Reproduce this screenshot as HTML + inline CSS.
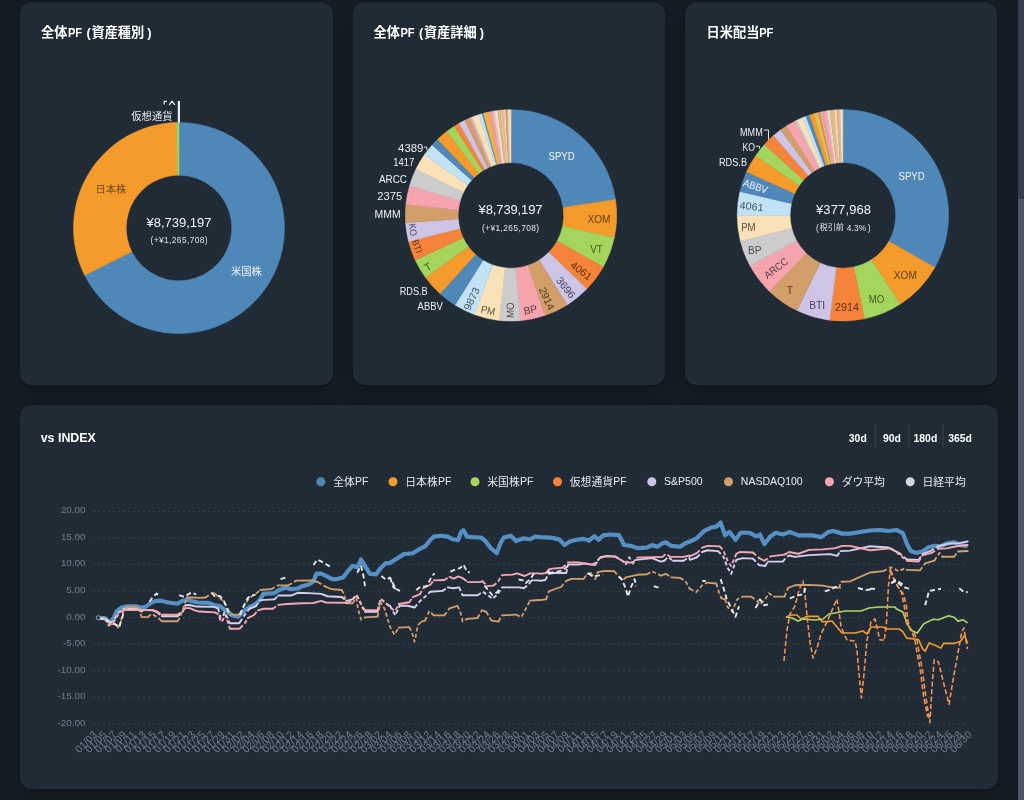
<!DOCTYPE html>
<html lang="ja"><head><meta charset="utf-8"><title>Portfolio Dashboard</title>
<style>
html,body{margin:0;padding:0;background:#161C24;}
body{width:1024px;height:800px;overflow:hidden;position:relative;font-family:"Liberation Sans", "Noto Sans CJK JP", sans-serif;color:#fff;}
.card{position:absolute;background:#212B36;border-radius:12px;box-shadow:0 0 2px 0 rgba(0,0,0,.24),0 10px 20px -4px rgba(0,0,0,.24);}
#c1{left:20px;top:1.5px;width:313px;height:383px;}
#c2{left:352.6px;top:1.5px;width:312.5px;height:383px;}
#c3{left:685.3px;top:1.5px;width:312.2px;height:383px;}
#c4{left:20px;top:405px;width:977.5px;height:384px;}
#sbt{position:absolute;left:1017.5px;top:0;width:6.5px;height:800px;background:#363c49;}
#sbh{position:absolute;left:1017.5px;top:199px;width:6.5px;height:601px;background:#4f5565;}
svg{position:absolute;left:0;top:0;filter:blur(0.35px);}
svg text{font-family:"Liberation Sans", "Noto Sans CJK JP", sans-serif;}
</style></head><body>
<div class="card" id="c1"></div><div class="card" id="c2"></div><div class="card" id="c3"></div><div class="card" id="c4"></div>
<div id="sbt"></div><div id="sbh"></div>
<svg width="1024" height="800" viewBox="0 0 1024 800">
<path d="M179 122.5A105.5 105.5 0 1 1 84.67 275.24L131.79 251.64A52.8 52.8 0 1 0 179 175.2Z" fill="#4f88b8" stroke="#4f88b8" stroke-width="0.5"/>
<path d="M84.67 275.24A105.5 105.5 0 0 1 176.42 122.53L177.71 175.22A52.8 52.8 0 0 0 131.79 251.64Z" fill="#f49b2c" stroke="#f49b2c" stroke-width="0.5"/>
<path d="M176.42 122.53A105.5 105.5 0 0 1 179 122.5L179 175.2A52.8 52.8 0 0 0 177.71 175.22Z" fill="#a6d55d" stroke="#a6d55d" stroke-width="0.5"/>
<rect x="177.8" y="101" width="2.2" height="21.6" fill="#e9ecef"/>
<path d="M164.2 104.6V101.4H167M169.2 104.8L172 101.2L174.9 104.8" stroke="#e9ecef" stroke-width="1.2" fill="none"/>
<text x="131.3" y="120.3" font-size="10.3" fill="#e6e9ec">仮想通貨</text>
<text x="95.5" y="192.5" font-size="10.3" fill="#6e4a1c">日本株</text>
<text x="231" y="275" font-size="10.3" fill="#f0f4f8">米国株</text>
<text x="146.6" y="226.9" font-size="13" fill="#f1f3f5" textLength="64.9" lengthAdjust="spacing">¥8,739,197</text>
<text x="150.5" y="243" font-size="8.4" fill="#e3e6ea" textLength="57.1" lengthAdjust="spacing">(+¥1,265,708)</text>
<path d="M511 109.7A105.7 105.7 0 0 1 615.48 199.41L563.19 207.41A52.8 52.8 0 0 0 511 162.6Z" fill="#4f88b8" stroke="#4f88b8" stroke-width="0.5"/>
<path d="M615.48 199.41A105.7 105.7 0 0 1 614.31 237.74L562.61 226.56A52.8 52.8 0 0 0 563.19 207.41Z" fill="#f49b2c" stroke="#f49b2c" stroke-width="0.5"/>
<path d="M614.31 237.74A105.7 105.7 0 0 1 603.27 266.97L557.09 241.16A52.8 52.8 0 0 0 562.61 226.56Z" fill="#a6d55d" stroke="#a6d55d" stroke-width="0.5"/>
<path d="M603.27 266.97A105.7 105.7 0 0 1 586.78 289.09L548.85 252.21A52.8 52.8 0 0 0 557.09 241.16Z" fill="#f5843a" stroke="#f5843a" stroke-width="0.5"/>
<path d="M586.78 289.09A105.7 105.7 0 0 1 567.17 304.94L539.06 260.13A52.8 52.8 0 0 0 548.85 252.21Z" fill="#cdc4e6" stroke="#cdc4e6" stroke-width="0.5"/>
<path d="M567.17 304.94A105.7 105.7 0 0 1 544.71 315.58L527.84 265.44A52.8 52.8 0 0 0 539.06 260.13Z" fill="#d29f6b" stroke="#d29f6b" stroke-width="0.5"/>
<path d="M544.71 315.58A105.7 105.7 0 0 1 520.21 320.7L515.6 268A52.8 52.8 0 0 0 527.84 265.44Z" fill="#f6a5ae" stroke="#f6a5ae" stroke-width="0.5"/>
<path d="M520.21 320.7A105.7 105.7 0 0 1 499.03 320.42L505.02 267.86A52.8 52.8 0 0 0 515.6 268Z" fill="#cccccc" stroke="#cccccc" stroke-width="0.5"/>
<path d="M499.03 320.42A105.7 105.7 0 0 1 474.33 314.53L492.68 264.92A52.8 52.8 0 0 0 505.02 267.86Z" fill="#fae2b8" stroke="#fae2b8" stroke-width="0.5"/>
<path d="M474.33 314.53A105.7 105.7 0 0 1 454.99 305.04L483.02 260.18A52.8 52.8 0 0 0 492.68 264.92Z" fill="#c2e3f6" stroke="#c2e3f6" stroke-width="0.5"/>
<path d="M454.99 305.04A105.7 105.7 0 0 1 440 293.7L475.53 254.51A52.8 52.8 0 0 0 483.02 260.18Z" fill="#4f88b8" stroke="#4f88b8" stroke-width="0.5"/>
<path d="M440 293.7A105.7 105.7 0 0 1 425.49 277.53L468.28 246.44A52.8 52.8 0 0 0 475.53 254.51Z" fill="#f49b2c" stroke="#f49b2c" stroke-width="0.5"/>
<path d="M425.49 277.53A105.7 105.7 0 0 1 415.2 260.07L463.15 237.71A52.8 52.8 0 0 0 468.28 246.44Z" fill="#a6d55d" stroke="#a6d55d" stroke-width="0.5"/>
<path d="M415.2 260.07A105.7 105.7 0 0 1 408.58 241.51L459.84 228.44A52.8 52.8 0 0 0 463.15 237.71Z" fill="#f5843a" stroke="#f5843a" stroke-width="0.5"/>
<path d="M408.58 241.51A105.7 105.7 0 0 1 405.56 222.77L458.33 219.08A52.8 52.8 0 0 0 459.84 228.44Z" fill="#cdc4e6" stroke="#cdc4e6" stroke-width="0.5"/>
<path d="M405.56 222.77A105.7 105.7 0 0 1 405.88 204.35L458.49 209.88A52.8 52.8 0 0 0 458.33 219.08Z" fill="#d29f6b" stroke="#d29f6b" stroke-width="0.5"/>
<path d="M405.88 204.35A105.7 105.7 0 0 1 409.55 185.73L460.32 200.58A52.8 52.8 0 0 0 458.49 209.88Z" fill="#f6a5ae" stroke="#f6a5ae" stroke-width="0.5"/>
<path d="M409.55 185.73A105.7 105.7 0 0 1 416 169.06L463.54 192.25A52.8 52.8 0 0 0 460.32 200.58Z" fill="#cccccc" stroke="#cccccc" stroke-width="0.5"/>
<path d="M416 169.06A105.7 105.7 0 0 1 424.42 154.77L467.75 185.12A52.8 52.8 0 0 0 463.54 192.25Z" fill="#fae2b8" stroke="#fae2b8" stroke-width="0.5"/>
<path d="M424.42 154.77A105.7 105.7 0 0 1 432.2 144.95L471.64 180.21A52.8 52.8 0 0 0 467.75 185.12Z" fill="#c2e3f6" stroke="#c2e3f6" stroke-width="0.5"/>
<path d="M432.2 144.95A105.7 105.7 0 0 1 437.57 139.37L474.32 177.42A52.8 52.8 0 0 0 471.64 180.21Z" fill="#4f88b8" stroke="#4f88b8" stroke-width="0.5"/>
<path d="M437.57 139.37A105.7 105.7 0 0 1 446.95 131.32L479 173.4A52.8 52.8 0 0 0 474.32 177.42Z" fill="#f49b2c" stroke="#f49b2c" stroke-width="0.5"/>
<path d="M446.95 131.32A105.7 105.7 0 0 1 454.36 126.15L482.71 170.82A52.8 52.8 0 0 0 479 173.4Z" fill="#a6d55d" stroke="#a6d55d" stroke-width="0.5"/>
<path d="M454.36 126.15A105.7 105.7 0 0 1 459.11 123.31L485.08 169.4A52.8 52.8 0 0 0 482.71 170.82Z" fill="#f5843a" stroke="#f5843a" stroke-width="0.5"/>
<path d="M459.11 123.31A105.7 105.7 0 0 1 464.91 120.28L487.98 167.88A52.8 52.8 0 0 0 485.08 169.4Z" fill="#cdc4e6" stroke="#cdc4e6" stroke-width="0.5"/>
<path d="M464.91 120.28A105.7 105.7 0 0 1 469.7 118.1L490.37 166.8A52.8 52.8 0 0 0 487.98 167.88Z" fill="#d29f6b" stroke="#d29f6b" stroke-width="0.5"/>
<path d="M469.7 118.1A105.7 105.7 0 0 1 471.06 117.54L491.05 166.51A52.8 52.8 0 0 0 490.37 166.8Z" fill="#f6a5ae" stroke="#f6a5ae" stroke-width="0.5"/>
<path d="M471.06 117.54A105.7 105.7 0 0 1 472.43 116.99L491.73 166.24A52.8 52.8 0 0 0 491.05 166.51Z" fill="#cccccc" stroke="#cccccc" stroke-width="0.5"/>
<path d="M472.43 116.99A105.7 105.7 0 0 1 479.04 114.65L495.03 165.07A52.8 52.8 0 0 0 491.73 166.24Z" fill="#fae2b8" stroke="#fae2b8" stroke-width="0.5"/>
<path d="M479.04 114.65A105.7 105.7 0 0 1 482.22 113.69L496.62 164.59A52.8 52.8 0 0 0 495.03 165.07Z" fill="#c2e3f6" stroke="#c2e3f6" stroke-width="0.5"/>
<path d="M482.22 113.69A105.7 105.7 0 0 1 483.46 113.35L497.25 164.42A52.8 52.8 0 0 0 496.62 164.59Z" fill="#4f88b8" stroke="#4f88b8" stroke-width="0.5"/>
<path d="M483.46 113.35A105.7 105.7 0 0 1 488.66 112.09L499.84 163.79A52.8 52.8 0 0 0 497.25 164.42Z" fill="#f0b347" stroke="#f0b347" stroke-width="0.5"/>
<path d="M488.66 112.09A105.7 105.7 0 0 1 490.83 111.64L500.93 163.57A52.8 52.8 0 0 0 499.84 163.79Z" fill="#f3a58f" stroke="#f3a58f" stroke-width="0.5"/>
<path d="M490.83 111.64A105.7 105.7 0 0 1 493.01 111.24L502.01 163.37A52.8 52.8 0 0 0 500.93 163.57Z" fill="#f6a5ae" stroke="#f6a5ae" stroke-width="0.5"/>
<path d="M493.01 111.24A105.7 105.7 0 0 1 494.83 110.94L502.92 163.22A52.8 52.8 0 0 0 502.01 163.37Z" fill="#f4c6c0" stroke="#f4c6c0" stroke-width="0.5"/>
<path d="M494.83 110.94A105.7 105.7 0 0 1 497.75 110.53L504.38 163.02A52.8 52.8 0 0 0 502.92 163.22Z" fill="#ece4da" stroke="#ece4da" stroke-width="0.5"/>
<path d="M497.75 110.53A105.7 105.7 0 0 1 499.95 110.28L505.48 162.89A52.8 52.8 0 0 0 504.38 163.02Z" fill="#e3b77c" stroke="#e3b77c" stroke-width="0.5"/>
<path d="M499.95 110.28A105.7 105.7 0 0 1 502.52 110.04L506.77 162.77A52.8 52.8 0 0 0 505.48 162.89Z" fill="#e8c58c" stroke="#e8c58c" stroke-width="0.5"/>
<path d="M502.52 110.04A105.7 105.7 0 0 1 503.99 109.93L507.5 162.72A52.8 52.8 0 0 0 506.77 162.77Z" fill="#f3b9b0" stroke="#f3b9b0" stroke-width="0.5"/>
<path d="M503.99 109.93A105.7 105.7 0 0 1 505.65 109.84L508.33 162.67A52.8 52.8 0 0 0 507.5 162.72Z" fill="#f6dcc0" stroke="#f6dcc0" stroke-width="0.5"/>
<path d="M505.65 109.84A105.7 105.7 0 0 1 507.86 109.75L509.43 162.62A52.8 52.8 0 0 0 508.33 162.67Z" fill="#d29f6b" stroke="#d29f6b" stroke-width="0.5"/>
<path d="M507.86 109.75A105.7 105.7 0 0 1 511 109.7L511 162.6A52.8 52.8 0 0 0 509.43 162.62Z" fill="#f5dcb6" stroke="#f5dcb6" stroke-width="0.5"/>
<path d="M842.9 109.65A105.7 105.7 0 0 1 934.9 267.4L888.85 241.35A52.8 52.8 0 0 0 842.9 162.55Z" fill="#4f88b8" stroke="#4f88b8" stroke-width="0.5"/>
<path d="M934.9 267.4A105.7 105.7 0 0 1 900 304.3L871.42 259.78A52.8 52.8 0 0 0 888.85 241.35Z" fill="#f49b2c" stroke="#f49b2c" stroke-width="0.5"/>
<path d="M900 304.3A105.7 105.7 0 0 1 864.33 318.85L853.61 267.05A52.8 52.8 0 0 0 871.42 259.78Z" fill="#a6d55d" stroke="#a6d55d" stroke-width="0.5"/>
<path d="M864.33 318.85A105.7 105.7 0 0 1 829.47 320.19L836.19 267.72A52.8 52.8 0 0 0 853.61 267.05Z" fill="#f5843a" stroke="#f5843a" stroke-width="0.5"/>
<path d="M829.47 320.19A105.7 105.7 0 0 1 797.06 310.59L820 262.93A52.8 52.8 0 0 0 836.19 267.72Z" fill="#cdc4e6" stroke="#cdc4e6" stroke-width="0.5"/>
<path d="M797.06 310.59A105.7 105.7 0 0 1 769.47 291.38L806.22 253.33A52.8 52.8 0 0 0 820 262.93Z" fill="#d29f6b" stroke="#d29f6b" stroke-width="0.5"/>
<path d="M769.47 291.38A105.7 105.7 0 0 1 750.01 265.79L796.5 240.54A52.8 52.8 0 0 0 806.22 253.33Z" fill="#f6a5ae" stroke="#f6a5ae" stroke-width="0.5"/>
<path d="M750.01 265.79A105.7 105.7 0 0 1 740.34 240.92L791.67 228.12A52.8 52.8 0 0 0 796.5 240.54Z" fill="#cccccc" stroke="#cccccc" stroke-width="0.5"/>
<path d="M740.34 240.92A105.7 105.7 0 0 1 737.2 215.35L790.1 215.35A52.8 52.8 0 0 0 791.67 228.12Z" fill="#fae2b8" stroke="#fae2b8" stroke-width="0.5"/>
<path d="M737.2 215.35A105.7 105.7 0 0 1 739.91 191.57L791.45 203.47A52.8 52.8 0 0 0 790.1 215.35Z" fill="#c2e3f6" stroke="#c2e3f6" stroke-width="0.5"/>
<path d="M739.91 191.57A105.7 105.7 0 0 1 746.56 171.85L794.78 193.62A52.8 52.8 0 0 0 791.45 203.47Z" fill="#4f88b8" stroke="#4f88b8" stroke-width="0.5"/>
<path d="M746.56 171.85A105.7 105.7 0 0 1 755.69 155.63L799.33 185.52A52.8 52.8 0 0 0 794.78 193.62Z" fill="#f49b2c" stroke="#f49b2c" stroke-width="0.5"/>
<path d="M755.69 155.63A105.7 105.7 0 0 1 764.47 144.49L803.72 179.95A52.8 52.8 0 0 0 799.33 185.52Z" fill="#a6d55d" stroke="#a6d55d" stroke-width="0.5"/>
<path d="M764.47 144.49A105.7 105.7 0 0 1 773.55 135.58L808.26 175.5A52.8 52.8 0 0 0 803.72 179.95Z" fill="#f5843a" stroke="#f5843a" stroke-width="0.5"/>
<path d="M773.55 135.58A105.7 105.7 0 0 1 780.77 129.84L811.86 172.63A52.8 52.8 0 0 0 808.26 175.5Z" fill="#cdc4e6" stroke="#cdc4e6" stroke-width="0.5"/>
<path d="M780.77 129.84A105.7 105.7 0 0 1 786.57 125.91L814.76 170.67A52.8 52.8 0 0 0 811.86 172.63Z" fill="#d29f6b" stroke="#d29f6b" stroke-width="0.5"/>
<path d="M786.57 125.91A105.7 105.7 0 0 1 795.41 120.92L819.18 168.18A52.8 52.8 0 0 0 814.76 170.67Z" fill="#f6a5ae" stroke="#f6a5ae" stroke-width="0.5"/>
<path d="M795.41 120.92A105.7 105.7 0 0 1 797.06 120.11L820 167.77A52.8 52.8 0 0 0 819.18 168.18Z" fill="#cccccc" stroke="#cccccc" stroke-width="0.5"/>
<path d="M797.06 120.11A105.7 105.7 0 0 1 802.45 117.7L822.69 166.57A52.8 52.8 0 0 0 820 167.77Z" fill="#fae2b8" stroke="#fae2b8" stroke-width="0.5"/>
<path d="M802.45 117.7A105.7 105.7 0 0 1 806.06 116.28L824.5 165.86A52.8 52.8 0 0 0 822.69 166.57Z" fill="#c2e3f6" stroke="#c2e3f6" stroke-width="0.5"/>
<path d="M806.06 116.28A105.7 105.7 0 0 1 809.54 115.05L826.23 165.25A52.8 52.8 0 0 0 824.5 165.86Z" fill="#4f88b8" stroke="#4f88b8" stroke-width="0.5"/>
<path d="M809.54 115.05A105.7 105.7 0 0 1 813.94 113.69L828.43 164.57A52.8 52.8 0 0 0 826.23 165.25Z" fill="#f49b2c" stroke="#f49b2c" stroke-width="0.5"/>
<path d="M813.94 113.69A105.7 105.7 0 0 1 818.4 112.53L830.66 163.99A52.8 52.8 0 0 0 828.43 164.57Z" fill="#dcc055" stroke="#dcc055" stroke-width="0.5"/>
<path d="M818.4 112.53A105.7 105.7 0 0 1 820.2 112.12L831.56 163.78A52.8 52.8 0 0 0 830.66 163.99Z" fill="#f5843a" stroke="#f5843a" stroke-width="0.5"/>
<path d="M820.2 112.12A105.7 105.7 0 0 1 821.47 111.85L832.19 163.65A52.8 52.8 0 0 0 831.56 163.78Z" fill="#cdc4e6" stroke="#cdc4e6" stroke-width="0.5"/>
<path d="M821.47 111.85A105.7 105.7 0 0 1 822.73 111.59L832.83 163.52A52.8 52.8 0 0 0 832.19 163.65Z" fill="#e9b08a" stroke="#e9b08a" stroke-width="0.5"/>
<path d="M822.73 111.59A105.7 105.7 0 0 1 826.73 110.89L834.82 163.17A52.8 52.8 0 0 0 832.83 163.52Z" fill="#f6a5ae" stroke="#f6a5ae" stroke-width="0.5"/>
<path d="M826.73 110.89A105.7 105.7 0 0 1 828.19 110.68L835.55 163.06A52.8 52.8 0 0 0 834.82 163.17Z" fill="#e6d6d6" stroke="#e6d6d6" stroke-width="0.5"/>
<path d="M828.19 110.68A105.7 105.7 0 0 1 829.84 110.46L836.37 162.95A52.8 52.8 0 0 0 835.55 163.06Z" fill="#f3e6d0" stroke="#f3e6d0" stroke-width="0.5"/>
<path d="M829.84 110.46A105.7 105.7 0 0 1 834.24 110.01L838.57 162.73A52.8 52.8 0 0 0 836.37 162.95Z" fill="#e3b98a" stroke="#e3b98a" stroke-width="0.5"/>
<path d="M834.24 110.01A105.7 105.7 0 0 1 836.82 109.83L839.86 162.64A52.8 52.8 0 0 0 838.57 162.73Z" fill="#f3dcc0" stroke="#f3dcc0" stroke-width="0.5"/>
<path d="M836.82 109.83A105.7 105.7 0 0 1 839.95 109.69L841.43 162.57A52.8 52.8 0 0 0 839.86 162.64Z" fill="#dfb58c" stroke="#dfb58c" stroke-width="0.5"/>
<path d="M839.95 109.69A105.7 105.7 0 0 1 842.9 109.65L842.9 162.55A52.8 52.8 0 0 0 841.43 162.57Z" fill="#f3dcc0" stroke="#f3dcc0" stroke-width="0.5"/>
<text x="478.6" y="213.9" font-size="13" fill="#f1f3f5" textLength="63.9" lengthAdjust="spacing">¥8,739,197</text>
<text x="482" y="230.5" font-size="8.4" fill="#e3e6ea" textLength="57.1" lengthAdjust="spacing">(+¥1,265,708)</text>
<text x="816" y="213.9" font-size="13" fill="#f1f3f5" textLength="55.1" lengthAdjust="spacing">¥377,968</text>
<text x="816" y="230.5" font-size="8.4" fill="#e3e6ea">(</text>
<text x="819.6" y="230.4" font-size="8.15" fill="#e3e6ea">税引前</text>
<text x="846.7" y="230.5" font-size="8.4" fill="#e3e6ea" textLength="19.5" lengthAdjust="spacing">4.3%</text>
<text x="867.7" y="230.5" font-size="8.4" fill="#e3e6ea">)</text>
<text x="561.6" y="160.34" font-size="10.4" fill="#f2f5f8" text-anchor="middle" textLength="26" lengthAdjust="spacingAndGlyphs">SPYD</text>
<text x="599" y="223.44" font-size="10.4" fill="#5b3d12" text-anchor="middle" textLength="23" lengthAdjust="spacingAndGlyphs">XOM</text>
<text x="596.6" y="253.14" font-size="10.4" fill="#3f5a1c" text-anchor="middle" textLength="12.5" lengthAdjust="spacingAndGlyphs">VT</text>
<text x="581.3" y="274.34" font-size="10.4" fill="#5e2f10" text-anchor="middle" textLength="24" lengthAdjust="spacingAndGlyphs" transform="rotate(36.7 581.3 270.6)">4061</text>
<text x="566" y="291.24" font-size="10.4" fill="#4b4560" text-anchor="middle" textLength="24" lengthAdjust="spacingAndGlyphs" transform="rotate(51 566 287.5)">3696</text>
<text x="546.9" y="302.14" font-size="10.4" fill="#4e3a22" text-anchor="middle" textLength="24" lengthAdjust="spacingAndGlyphs" transform="rotate(64.6 546.9 298.4)">2914</text>
<text x="530.3" y="313.44" font-size="10.4" fill="#5c3a40" text-anchor="middle" textLength="13.5" lengthAdjust="spacingAndGlyphs" transform="rotate(-11 530.3 309.7)">BP</text>
<text x="510" y="314.04" font-size="10.4" fill="#4a4a4a" text-anchor="middle" textLength="15.5" lengthAdjust="spacingAndGlyphs" transform="rotate(-89.3 510 310.3)">MO</text>
<text x="488" y="314.04" font-size="10.4" fill="#5b5240" text-anchor="middle" textLength="14.5" lengthAdjust="spacingAndGlyphs" transform="rotate(12 488 310.3)">PM</text>
<text x="471.6" y="302.54" font-size="10.4" fill="#3f5563" text-anchor="middle" textLength="24" lengthAdjust="spacingAndGlyphs" transform="rotate(-64 471.6 298.8)">9873</text>
<text x="428" y="270.34" font-size="10.4" fill="#3f5a1c" text-anchor="middle" transform="rotate(-30 428 266.6)">T</text>
<text x="417.2" y="249.76" font-size="9.6" fill="#5e2f10" text-anchor="middle" textLength="13.5" lengthAdjust="spacingAndGlyphs" transform="rotate(70.3 417.2 246.3)">BTI</text>
<text x="413.1" y="233.16" font-size="9.6" fill="#4b4560" text-anchor="middle" textLength="12.5" lengthAdjust="spacingAndGlyphs" transform="rotate(80.8 413.1 229.7)">KO</text>
<text x="423.3" y="152.04" font-size="10.4" fill="#eef0f2" text-anchor="end" textLength="25.2" lengthAdjust="spacingAndGlyphs">4389</text>
<path d="M423.8 147.1L426.8 147.1L426.8 150" fill="none" stroke="#dfe3e7" stroke-width="1"/>
<text x="414.4" y="166.34" font-size="10.4" fill="#eef0f2" text-anchor="end" textLength="21.2" lengthAdjust="spacingAndGlyphs">1417</text>
<text x="407" y="182.54" font-size="10.4" fill="#eef0f2" text-anchor="end" textLength="28" lengthAdjust="spacingAndGlyphs">ARCC</text>
<text x="402.2" y="199.64" font-size="10.4" fill="#eef0f2" text-anchor="end" textLength="25" lengthAdjust="spacingAndGlyphs">2375</text>
<text x="400.6" y="218.34" font-size="10.4" fill="#eef0f2" text-anchor="end" textLength="26" lengthAdjust="spacingAndGlyphs">MMM</text>
<text x="427.7" y="294.74" font-size="10.4" fill="#eef0f2" text-anchor="end" textLength="28" lengthAdjust="spacingAndGlyphs">RDS.B</text>
<text x="442.8" y="310.14" font-size="10.4" fill="#eef0f2" text-anchor="end" textLength="25.2" lengthAdjust="spacingAndGlyphs">ABBV</text>
<text x="911.6" y="180.34" font-size="10.4" fill="#f2f5f8" text-anchor="middle" textLength="26" lengthAdjust="spacingAndGlyphs">SPYD</text>
<text x="905.3" y="278.74" font-size="10.4" fill="#5b3d12" text-anchor="middle" textLength="23" lengthAdjust="spacingAndGlyphs">XOM</text>
<text x="876.6" y="302.54" font-size="10.4" fill="#3f5a1c" text-anchor="middle" textLength="15.5" lengthAdjust="spacingAndGlyphs">MO</text>
<text x="846.9" y="310.94" font-size="10.4" fill="#5e2f10" text-anchor="middle" textLength="24" lengthAdjust="spacingAndGlyphs">2914</text>
<text x="817.2" y="309.34" font-size="10.4" fill="#4b4560" text-anchor="middle" textLength="16" lengthAdjust="spacingAndGlyphs">BTI</text>
<text x="790" y="293.74" font-size="10.4" fill="#4e3a22" text-anchor="middle">T</text>
<text x="776" y="271.74" font-size="10.4" fill="#5c3a40" text-anchor="middle" textLength="27" lengthAdjust="spacingAndGlyphs" transform="rotate(-37.2 776 268)">ARCC</text>
<text x="754.7" y="253.74" font-size="10.4" fill="#4a4a4a" text-anchor="middle" textLength="13.5" lengthAdjust="spacingAndGlyphs">BP</text>
<text x="748.4" y="230.64" font-size="10.4" fill="#5b5240" text-anchor="middle" textLength="14.5" lengthAdjust="spacingAndGlyphs">PM</text>
<text x="751.6" y="210.04" font-size="10.4" fill="#3f5563" text-anchor="middle" textLength="24" lengthAdjust="spacingAndGlyphs" transform="rotate(6.5 751.6 206.3)">4061</text>
<text x="755.6" y="190.04" font-size="10.4" fill="#f2f5f8" text-anchor="middle" textLength="25" lengthAdjust="spacingAndGlyphs" transform="rotate(18.6 755.6 186.3)">ABBV</text>
<text x="762.7" y="136.24" font-size="10.4" fill="#eef0f2" text-anchor="end" textLength="22.7" lengthAdjust="spacingAndGlyphs">MMM</text>
<path d="M764 130L768.5 130L768.5 139.8" fill="none" stroke="#dfe3e7" stroke-width="1"/>
<text x="755" y="150.84" font-size="10.4" fill="#eef0f2" text-anchor="end" textLength="12.5" lengthAdjust="spacingAndGlyphs">KO</text>
<path d="M755.9 146.3L759.6 146.3L759.6 148.9" fill="none" stroke="#dfe3e7" stroke-width="1"/>
<text x="747" y="166.34" font-size="10.4" fill="#eef0f2" text-anchor="end" textLength="28" lengthAdjust="spacingAndGlyphs">RDS.B</text>
<line x1="93" x2="967" y1="723.9" y2="723.9" stroke="#36424e" stroke-width="1" stroke-dasharray="2 3"/>
<text x="85.6" y="725.7" font-size="9.9" fill="#707d8a" text-anchor="end">-20.00</text>
<line x1="93" x2="967" y1="697.35" y2="697.35" stroke="#36424e" stroke-width="1" stroke-dasharray="2 3"/>
<text x="85.6" y="699.15" font-size="9.9" fill="#707d8a" text-anchor="end">-15.00</text>
<line x1="93" x2="967" y1="670.8" y2="670.8" stroke="#36424e" stroke-width="1" stroke-dasharray="2 3"/>
<text x="85.6" y="672.6" font-size="9.9" fill="#707d8a" text-anchor="end">-10.00</text>
<line x1="93" x2="967" y1="644.25" y2="644.25" stroke="#36424e" stroke-width="1" stroke-dasharray="2 3"/>
<text x="85.6" y="646.05" font-size="9.9" fill="#707d8a" text-anchor="end">-5.00</text>
<line x1="93" x2="967" y1="617.7" y2="617.7" stroke="#36424e" stroke-width="1" stroke-dasharray="2 3"/>
<text x="85.6" y="619.5" font-size="9.9" fill="#707d8a" text-anchor="end">0.00</text>
<line x1="93" x2="967" y1="591.15" y2="591.15" stroke="#36424e" stroke-width="1" stroke-dasharray="2 3"/>
<text x="85.6" y="592.95" font-size="9.9" fill="#707d8a" text-anchor="end">5.00</text>
<line x1="93" x2="967" y1="564.6" y2="564.6" stroke="#36424e" stroke-width="1" stroke-dasharray="2 3"/>
<text x="85.6" y="566.4" font-size="9.9" fill="#707d8a" text-anchor="end">10.00</text>
<line x1="93" x2="967" y1="538.05" y2="538.05" stroke="#36424e" stroke-width="1" stroke-dasharray="2 3"/>
<text x="85.6" y="539.85" font-size="9.9" fill="#707d8a" text-anchor="end">15.00</text>
<line x1="93" x2="967" y1="511.5" y2="511.5" stroke="#36424e" stroke-width="1" stroke-dasharray="2 3"/>
<text x="85.6" y="513.3" font-size="9.9" fill="#707d8a" text-anchor="end">20.00</text>
<path d="M98.59 618.12L104.84 618.12L109.53 622.5L113.44 618.59L116.56 611.56L121.25 607.66L127.5 606.41L136.88 606.41L141.56 607.66L145.47 606.88L150.94 602.97L155.62 600.94L161.88 600.94L168.12 602.5L177.5 603.75L182.19 600.94L187.66 599.84L191.56 600.94L197.81 602.5L208.75 602.97L215 605.31L219.69 606.09L222.81 608.44L227.5 611.56L232.19 615.47L238.44 616.56L240 615L244.69 610.31L249.38 607.19L255.62 604.06L260.31 599.38L263.44 593.91L274.38 593.12L279.06 590L285.31 587.66L291.56 589.22L297.81 588.44L302.5 586.09L308.75 584.53L313.44 581.41L316.56 573.59L321.25 573.59L327.5 576.72L332.19 579.06L336.88 579.06L343.12 577.5L347.81 571.25L352.5 565.78L357.19 567.34L361.09 559.53L365 565.78L369.69 573.59L375.94 574.38L380.62 568.12L385.31 563.44L390 562.89L397 558.51L404 554.14L412.76 553.26L419.76 548.88L425.01 546.26L430.26 540.13L433.76 536.63L440.77 535.75L447.77 536.63L453.02 539.26L458.27 540.13L460.9 532.25L463.52 530.15L467.02 536.63L472.28 537.16L481.03 537.51L485.4 541.01L490.66 548.01L496.78 553.26L500.28 543.63L503.79 537.51L510.79 535.75L516.04 541.01L523.04 538.38L530.04 539.26L535.3 536.63L540 537.13L550.5 537.66L559.26 539.41L564.51 545.01L569.76 541.51L576.76 539.76L583.76 538.88L589.02 540.63L594.27 536.26L598.64 539.76L603.02 535.38L610.02 534.51L618.77 535.03L621.4 539.76L624.03 545.01L631.03 545.89L638.03 548.16L646.78 547.64L652.04 545.01L657.29 546.76L662.54 543.26L666.04 542.39L671.29 545.89L680.04 546.76L685.3 543.26L690 541.51L697 538.01L704 531.01L711.01 527.51L716.26 526.63L720.63 522.6L725.01 535.38L729.39 531.88L735.51 539.76L740.77 532.76L749.52 532.76L756.52 536.26L760.02 534.51L764.4 544.14L770.53 536.26L775.78 532.76L782.78 534.51L789.78 531.88L798.53 535.38L812.54 535.38L821.29 537.13L828.29 531.88L833.54 531.01L842.3 533.63L850 533.63L870 530.5L880.5 529.98L888.38 531.03L896.26 529.98L902.83 533.13L906.76 543.63L910.7 550.99L915.96 552.83L922.52 551.51L927.77 547.57L934.34 545.74L940.9 546.26L946.16 543.63L954.03 542.32L960.6 544.95L967.69 546.26" fill="none" stroke="#5590c4" stroke-width="4.2" stroke-linejoin="round"/>
<path d="M786 617L791 615L797 615L801 619L807 616.4L818 616.4L822 621.6L827 621.6L832 621L837 627L842 633L855 633L863 631L867 634L871 627L883 627L887 629L899 629L902.83 631.61L906.76 638.17L918.58 639.49L922.52 648.68L925.15 651.3L929.09 642.9L935.65 645.53L940.9 648.15L943.53 643.42L954.03 643.42L960.6 641.32L964.54 635.55L967.69 643.42" fill="none" stroke="#f49b2c" stroke-width="1.6" stroke-linejoin="round"/>
<path d="M786 617L792 618L798 621L803 619L815 620L823 619L829 614L835 613L845 611L861 611L869 608L879 607L895 607L896.26 608.76L902.83 611.91L906.76 622.42L910.7 630.29L917.27 632.92L923.83 623.73L933.03 619.26L938.28 619.79L948.78 615.85L954.03 617.16L957.97 621.1L963.22 619.79L967.69 622.94" fill="none" stroke="#abd866" stroke-width="1.6" stroke-linejoin="round"/>
<path d="M784 661L787 630L790 614L795 606L799 590L803 581L805 594L807 616L810 642L813 658L817 648L821 634L827 622L833 608L837 599L839 612L841 626L844 634L847 640L855 641L857 650L859 674L861.4 698L864 674L867 640L871 622L875 619L877 628L880 640L884 640L884.25 640.68L886.37 623.69L888.49 585.48L890.62 567.43L891.68 572.74L896.99 585.48L903.35 593.97L906.54 606.71L907.6 619.45L909.72 627.94L913.97 632.19L917.15 640.68L919.28 653.42L922.46 670.4L925.65 695.88L929.89 722.42L932.02 687.39L934.14 659.79L938.39 661.91L942.63 678.9L945.82 691.63L949 704.37L953.25 678.9L957.49 655.54L961.74 632.19L963.86 627.94L965.99 640.68L967.47 649.17" fill="none" stroke="#f29352" stroke-width="1.6" stroke-linejoin="round" stroke-dasharray="5 2.5"/>
<path d="M889.55 570.62L894.86 581.23L901.23 591.85L904.42 606.71L906.54 623.69L911.85 631.13L915.03 640.68L917.15 653.42L920.34 670.4L923.52 695.88L927.77 717.11" fill="none" stroke="#f29352" stroke-width="1.6" stroke-linejoin="round" stroke-dasharray="5 2.5"/>
<path d="M98.59 618.12L105.62 618.59" fill="none" stroke="#d6cfee" stroke-width="1.9" stroke-linejoin="round" stroke-linecap="round"/>
<path d="M105.62 618.59L109.53 623.28L113.44 620.94L118.12 613.12L123.59 608.75" fill="none" stroke="#d6cfee" stroke-width="1.9" stroke-linejoin="round" stroke-dasharray="4 2.5"/>
<path d="M123.59 608.75L136.88 608.75L141.56 610L152.5 610.31L157.19 612.34" fill="none" stroke="#d6cfee" stroke-width="1.9" stroke-linejoin="round" stroke-linecap="round"/>
<path d="M157.19 612.34L161.88 616.25" fill="none" stroke="#d6cfee" stroke-width="1.9" stroke-linejoin="round" stroke-dasharray="4 2.5"/>
<path d="M161.88 616.25L177.5 616.25" fill="none" stroke="#d6cfee" stroke-width="1.9" stroke-linejoin="round" stroke-linecap="round"/>
<path d="M177.5 616.25L182.19 613.12L185.31 605.31" fill="none" stroke="#d6cfee" stroke-width="1.9" stroke-linejoin="round" stroke-dasharray="4 2.5"/>
<path d="M185.31 605.31L190 605L196.25 606.56L213.44 606.88L218.12 608.44" fill="none" stroke="#d6cfee" stroke-width="1.9" stroke-linejoin="round" stroke-linecap="round"/>
<path d="M218.12 608.44L220.47 617.81L222.81 616.25L224.38 612.34L227.5 617.81L229.84 623.28" fill="none" stroke="#d6cfee" stroke-width="1.9" stroke-linejoin="round" stroke-dasharray="4 2.5"/>
<path d="M229.84 623.28L239.22 623.28L240 622.03" fill="none" stroke="#d6cfee" stroke-width="1.9" stroke-linejoin="round" stroke-linecap="round"/>
<path d="M240 622.03L244.69 615L249.38 608.75" fill="none" stroke="#d6cfee" stroke-width="1.9" stroke-linejoin="round" stroke-dasharray="4 2.5"/>
<path d="M249.38 608.75L255.62 606.41" fill="none" stroke="#d6cfee" stroke-width="1.9" stroke-linejoin="round" stroke-linecap="round"/>
<path d="M255.62 606.41L260.31 600.16" fill="none" stroke="#d6cfee" stroke-width="1.9" stroke-linejoin="round" stroke-dasharray="4 2.5"/>
<path d="M260.31 600.16L274.38 599.38" fill="none" stroke="#d6cfee" stroke-width="1.9" stroke-linejoin="round" stroke-linecap="round"/>
<path d="M274.38 599.38L278.28 595.47" fill="none" stroke="#d6cfee" stroke-width="1.9" stroke-linejoin="round" stroke-dasharray="4 2.5"/>
<path d="M278.28 595.47L291.56 595.47L297.81 592.81L308.75 593.12L321.25 593.91L327.5 596.25L341.56 597.03" fill="none" stroke="#d6cfee" stroke-width="1.9" stroke-linejoin="round" stroke-linecap="round"/>
<path d="M341.56 597.03L346.25 600.94" fill="none" stroke="#d6cfee" stroke-width="1.9" stroke-linejoin="round" stroke-dasharray="4 2.5"/>
<path d="M346.25 600.94L352.5 599.38" fill="none" stroke="#d6cfee" stroke-width="1.9" stroke-linejoin="round" stroke-linecap="round"/>
<path d="M352.5 599.38L356.41 594.69L359.53 600.94L361.88 606.41L365 611.88" fill="none" stroke="#d6cfee" stroke-width="1.9" stroke-linejoin="round" stroke-dasharray="4 2.5"/>
<path d="M365 611.88L377.5 611.88" fill="none" stroke="#d6cfee" stroke-width="1.9" stroke-linejoin="round" stroke-linecap="round"/>
<path d="M377.5 611.88L380.62 599.38L386.88 604.06" fill="none" stroke="#d6cfee" stroke-width="1.9" stroke-linejoin="round" stroke-dasharray="4 2.5"/>
<path d="M386.88 604.06L390 605.78" fill="none" stroke="#d6cfee" stroke-width="1.9" stroke-linejoin="round" stroke-linecap="round"/>
<path d="M390 605.78L395.25 615.4L399.63 605.78" fill="none" stroke="#d6cfee" stroke-width="1.9" stroke-linejoin="round" stroke-dasharray="4 2.5"/>
<path d="M399.63 605.78L407.51 605.78L414.51 607.53" fill="none" stroke="#d6cfee" stroke-width="1.9" stroke-linejoin="round" stroke-linecap="round"/>
<path d="M414.51 607.53L419.76 601.4L426.76 595.27L430.26 591.77" fill="none" stroke="#d6cfee" stroke-width="1.9" stroke-linejoin="round" stroke-dasharray="4 2.5"/>
<path d="M430.26 591.77L442.52 590.9" fill="none" stroke="#d6cfee" stroke-width="1.9" stroke-linejoin="round" stroke-linecap="round"/>
<path d="M442.52 590.9L447.77 587.4" fill="none" stroke="#d6cfee" stroke-width="1.9" stroke-linejoin="round" stroke-dasharray="4 2.5"/>
<path d="M447.77 587.4L453.02 588.27L459.15 587.4" fill="none" stroke="#d6cfee" stroke-width="1.9" stroke-linejoin="round" stroke-linecap="round"/>
<path d="M459.15 587.4L462.65 595.27" fill="none" stroke="#d6cfee" stroke-width="1.9" stroke-linejoin="round" stroke-dasharray="4 2.5"/>
<path d="M462.65 595.27L477.53 595.27" fill="none" stroke="#d6cfee" stroke-width="1.9" stroke-linejoin="round" stroke-linecap="round"/>
<path d="M477.53 595.27L482.78 591.77L488.03 595.27L492.41 598.77L497.66 594.4L502.04 587.4" fill="none" stroke="#d6cfee" stroke-width="1.9" stroke-linejoin="round" stroke-dasharray="4 2.5"/>
<path d="M502.04 587.4L519.54 587.4L523.92 588.27" fill="none" stroke="#d6cfee" stroke-width="1.9" stroke-linejoin="round" stroke-linecap="round"/>
<path d="M523.92 588.27L528.29 584.77L531.79 580.39" fill="none" stroke="#d6cfee" stroke-width="1.9" stroke-linejoin="round" stroke-dasharray="4 2.5"/>
<path d="M531.79 580.39L538.8 580.39L540 580.9L545.25 580.02" fill="none" stroke="#d6cfee" stroke-width="1.9" stroke-linejoin="round" stroke-linecap="round"/>
<path d="M545.25 580.02L548.75 573.89" fill="none" stroke="#d6cfee" stroke-width="1.9" stroke-linejoin="round" stroke-dasharray="4 2.5"/>
<path d="M548.75 573.89L554 573.02L566.26 573.02" fill="none" stroke="#d6cfee" stroke-width="1.9" stroke-linejoin="round" stroke-linecap="round"/>
<path d="M566.26 573.02L568.01 564.62" fill="none" stroke="#d6cfee" stroke-width="1.9" stroke-linejoin="round" stroke-dasharray="4 2.5"/>
<path d="M568.01 564.62L578.51 564.62L585.51 563.39L592.52 564.62" fill="none" stroke="#d6cfee" stroke-width="1.9" stroke-linejoin="round" stroke-linecap="round"/>
<path d="M592.52 564.62L596.02 562.52L600.39 557.26" fill="none" stroke="#d6cfee" stroke-width="1.9" stroke-linejoin="round" stroke-dasharray="4 2.5"/>
<path d="M600.39 557.26L606.52 555.86L615.27 556.39" fill="none" stroke="#d6cfee" stroke-width="1.9" stroke-linejoin="round" stroke-linecap="round"/>
<path d="M615.27 556.39L622.28 560.77L625.78 564.27L629.28 557.26L632.78 563.39L636.28 559.89" fill="none" stroke="#d6cfee" stroke-width="1.9" stroke-linejoin="round" stroke-dasharray="4 2.5"/>
<path d="M636.28 559.89L652.04 558.14L660.79 561.64L664.29 560.77" fill="none" stroke="#d6cfee" stroke-width="1.9" stroke-linejoin="round" stroke-linecap="round"/>
<path d="M664.29 560.77L667.79 556.91L673.04 560.77" fill="none" stroke="#d6cfee" stroke-width="1.9" stroke-linejoin="round" stroke-dasharray="4 2.5"/>
<path d="M673.04 560.77L683.54 560.77" fill="none" stroke="#d6cfee" stroke-width="1.9" stroke-linejoin="round" stroke-linecap="round"/>
<path d="M683.54 560.77L688.8 557.26L690 559.89" fill="none" stroke="#d6cfee" stroke-width="1.9" stroke-linejoin="round" stroke-dasharray="4 2.5"/>
<path d="M690 559.89L697 557.26" fill="none" stroke="#d6cfee" stroke-width="1.9" stroke-linejoin="round" stroke-linecap="round"/>
<path d="M697 557.26L702.25 552.01" fill="none" stroke="#d6cfee" stroke-width="1.9" stroke-linejoin="round" stroke-dasharray="4 2.5"/>
<path d="M702.25 552.01L707.51 550.26L718.01 551.14" fill="none" stroke="#d6cfee" stroke-width="1.9" stroke-linejoin="round" stroke-linecap="round"/>
<path d="M718.01 551.14L723.26 556.39L727.64 567.77L731.14 573.89L736.39 559.89" fill="none" stroke="#d6cfee" stroke-width="1.9" stroke-linejoin="round" stroke-dasharray="4 2.5"/>
<path d="M736.39 559.89L742.52 558.14L753.02 558.67" fill="none" stroke="#d6cfee" stroke-width="1.9" stroke-linejoin="round" stroke-linecap="round"/>
<path d="M753.02 558.67L759.15 565.14" fill="none" stroke="#d6cfee" stroke-width="1.9" stroke-linejoin="round" stroke-dasharray="4 2.5"/>
<path d="M759.15 565.14L765.27 566.02" fill="none" stroke="#d6cfee" stroke-width="1.9" stroke-linejoin="round" stroke-linecap="round"/>
<path d="M765.27 566.02L767.9 561.64" fill="none" stroke="#d6cfee" stroke-width="1.9" stroke-linejoin="round" stroke-dasharray="4 2.5"/>
<path d="M767.9 561.64L782.78 561.64" fill="none" stroke="#d6cfee" stroke-width="1.9" stroke-linejoin="round" stroke-linecap="round"/>
<path d="M782.78 561.64L786.28 557.26L788.91 555.51" fill="none" stroke="#d6cfee" stroke-width="1.9" stroke-linejoin="round" stroke-dasharray="4 2.5"/>
<path d="M788.91 555.51L795.03 556.91L809.04 555.16L830.04 554.11L837.05 555.86" fill="none" stroke="#d6cfee" stroke-width="1.9" stroke-linejoin="round" stroke-linecap="round"/>
<path d="M837.05 555.86L840.55 551.14" fill="none" stroke="#d6cfee" stroke-width="1.9" stroke-linejoin="round" stroke-dasharray="4 2.5"/>
<path d="M840.55 551.14L850 550.61L870 546.26L888.38 547.57L898.89 552.83" fill="none" stroke="#d6cfee" stroke-width="1.9" stroke-linejoin="round" stroke-linecap="round"/>
<path d="M898.89 552.83L906.76 559.39" fill="none" stroke="#d6cfee" stroke-width="1.9" stroke-linejoin="round" stroke-dasharray="4 2.5"/>
<path d="M906.76 559.39L918.58 559.92" fill="none" stroke="#d6cfee" stroke-width="1.9" stroke-linejoin="round" stroke-linecap="round"/>
<path d="M918.58 559.92L922.52 554.14" fill="none" stroke="#d6cfee" stroke-width="1.9" stroke-linejoin="round" stroke-dasharray="4 2.5"/>
<path d="M922.52 554.14L930.4 550.99" fill="none" stroke="#d6cfee" stroke-width="1.9" stroke-linejoin="round" stroke-linecap="round"/>
<path d="M930.4 550.99L938.28 546.26" fill="none" stroke="#d6cfee" stroke-width="1.9" stroke-linejoin="round" stroke-dasharray="4 2.5"/>
<path d="M938.28 546.26L948.78 543.63L959.29 543.11L967.69 541.53" fill="none" stroke="#d6cfee" stroke-width="1.9" stroke-linejoin="round" stroke-linecap="round"/>
<path d="M98.59 618.12L105.62 619.38" fill="none" stroke="#d29f6b" stroke-width="1.8" stroke-linejoin="round" stroke-linecap="round"/>
<path d="M105.62 619.38L109.53 624.06" fill="none" stroke="#d29f6b" stroke-width="1.8" stroke-linejoin="round" stroke-dasharray="4 2.5"/>
<path d="M109.53 624.06L113.44 624.06L116.56 624.84" fill="none" stroke="#d29f6b" stroke-width="1.8" stroke-linejoin="round" stroke-linecap="round"/>
<path d="M116.56 624.84L118.91 628.75L121.25 619.38L123.59 610.78L127.5 606.88" fill="none" stroke="#d29f6b" stroke-width="1.8" stroke-linejoin="round" stroke-dasharray="4 2.5"/>
<path d="M127.5 606.88L138.44 607.66" fill="none" stroke="#d29f6b" stroke-width="1.8" stroke-linejoin="round" stroke-linecap="round"/>
<path d="M138.44 607.66L141.56 617.03" fill="none" stroke="#d29f6b" stroke-width="1.8" stroke-linejoin="round" stroke-dasharray="4 2.5"/>
<path d="M141.56 617.03L147.81 617.03" fill="none" stroke="#d29f6b" stroke-width="1.8" stroke-linejoin="round" stroke-linecap="round"/>
<path d="M147.81 617.03L151.72 613.91L157.19 617.03L161.88 621.25" fill="none" stroke="#d29f6b" stroke-width="1.8" stroke-linejoin="round" stroke-dasharray="4 2.5"/>
<path d="M161.88 621.25L177.5 621.25" fill="none" stroke="#d29f6b" stroke-width="1.8" stroke-linejoin="round" stroke-linecap="round"/>
<path d="M177.5 621.25L179.84 617.81L183.75 606.88L186.88 597.5" fill="none" stroke="#d29f6b" stroke-width="1.8" stroke-linejoin="round" stroke-dasharray="4 2.5"/>
<path d="M186.88 597.5L193.12 597.5L199.38 597.81L205.62 597.5" fill="none" stroke="#d29f6b" stroke-width="1.8" stroke-linejoin="round" stroke-linecap="round"/>
<path d="M205.62 597.5L208.75 595.16L211.88 592.81" fill="none" stroke="#d29f6b" stroke-width="1.8" stroke-linejoin="round" stroke-dasharray="4 2.5"/>
<path d="M211.88 592.81L215 593.59" fill="none" stroke="#d29f6b" stroke-width="1.8" stroke-linejoin="round" stroke-linecap="round"/>
<path d="M215 593.59L218.12 596.72L222.81 600.62L226.72 606.88L230.62 614.69" fill="none" stroke="#d29f6b" stroke-width="1.8" stroke-linejoin="round" stroke-dasharray="4 2.5"/>
<path d="M230.62 614.69L239.22 614.69L240 613.44" fill="none" stroke="#d29f6b" stroke-width="1.8" stroke-linejoin="round" stroke-linecap="round"/>
<path d="M240 613.44L243.12 607.19L249.38 597.81L255.62 593.91L260.31 590" fill="none" stroke="#d29f6b" stroke-width="1.8" stroke-linejoin="round" stroke-dasharray="4 2.5"/>
<path d="M260.31 590L271.25 589.22" fill="none" stroke="#d29f6b" stroke-width="1.8" stroke-linejoin="round" stroke-linecap="round"/>
<path d="M271.25 589.22L278.28 585.31" fill="none" stroke="#d29f6b" stroke-width="1.8" stroke-linejoin="round" stroke-dasharray="4 2.5"/>
<path d="M278.28 585.31L288.44 585.31" fill="none" stroke="#d29f6b" stroke-width="1.8" stroke-linejoin="round" stroke-linecap="round"/>
<path d="M288.44 585.31L296.25 580.62" fill="none" stroke="#d29f6b" stroke-width="1.8" stroke-linejoin="round" stroke-dasharray="4 2.5"/>
<path d="M296.25 580.62L311.88 580.31L318.12 582.19" fill="none" stroke="#d29f6b" stroke-width="1.8" stroke-linejoin="round" stroke-linecap="round"/>
<path d="M318.12 582.19L324.38 586.09" fill="none" stroke="#d29f6b" stroke-width="1.8" stroke-linejoin="round" stroke-dasharray="4 2.5"/>
<path d="M324.38 586.09L331.41 589.22L341.56 590" fill="none" stroke="#d29f6b" stroke-width="1.8" stroke-linejoin="round" stroke-linecap="round"/>
<path d="M341.56 590L343.91 593.91L346.25 603.28" fill="none" stroke="#d29f6b" stroke-width="1.8" stroke-linejoin="round" stroke-dasharray="4 2.5"/>
<path d="M346.25 603.28L352.5 603.28" fill="none" stroke="#d29f6b" stroke-width="1.8" stroke-linejoin="round" stroke-linecap="round"/>
<path d="M352.5 603.28L356.41 597.81L357.97 608.75L361.09 619.69L365 617.34" fill="none" stroke="#d29f6b" stroke-width="1.8" stroke-linejoin="round" stroke-dasharray="4 2.5"/>
<path d="M365 617.34L377.5 616.56" fill="none" stroke="#d29f6b" stroke-width="1.8" stroke-linejoin="round" stroke-linecap="round"/>
<path d="M377.5 616.56L380.62 602.5L384.53 608.75L390 626.78L394.38 634.66L398.75 627.66" fill="none" stroke="#d29f6b" stroke-width="1.8" stroke-linejoin="round" stroke-dasharray="4 2.5"/>
<path d="M398.75 627.66L409.26 627.13" fill="none" stroke="#d29f6b" stroke-width="1.8" stroke-linejoin="round" stroke-linecap="round"/>
<path d="M409.26 627.13L411.88 632.04L414.51 641.66L418.01 625.03L421.51 621.53" fill="none" stroke="#d29f6b" stroke-width="1.8" stroke-linejoin="round" stroke-dasharray="4 2.5"/>
<path d="M421.51 621.53L425.01 620.66" fill="none" stroke="#d29f6b" stroke-width="1.8" stroke-linejoin="round" stroke-linecap="round"/>
<path d="M425.01 620.66L429.39 611.03L433.76 615.4" fill="none" stroke="#d29f6b" stroke-width="1.8" stroke-linejoin="round" stroke-dasharray="4 2.5"/>
<path d="M433.76 615.4L444.27 615.4" fill="none" stroke="#d29f6b" stroke-width="1.8" stroke-linejoin="round" stroke-linecap="round"/>
<path d="M444.27 615.4L449.52 608.4" fill="none" stroke="#d29f6b" stroke-width="1.8" stroke-linejoin="round" stroke-dasharray="4 2.5"/>
<path d="M449.52 608.4L457.4 605.78" fill="none" stroke="#d29f6b" stroke-width="1.8" stroke-linejoin="round" stroke-linecap="round"/>
<path d="M457.4 605.78L460.02 611.03L462.65 621.53L467.02 618.91" fill="none" stroke="#d29f6b" stroke-width="1.8" stroke-linejoin="round" stroke-dasharray="4 2.5"/>
<path d="M467.02 618.91L477.53 618.03" fill="none" stroke="#d29f6b" stroke-width="1.8" stroke-linejoin="round" stroke-linecap="round"/>
<path d="M477.53 618.03L481.9 610.15" fill="none" stroke="#d29f6b" stroke-width="1.8" stroke-linejoin="round" stroke-dasharray="4 2.5"/>
<path d="M481.9 610.15L486.28 611.9" fill="none" stroke="#d29f6b" stroke-width="1.8" stroke-linejoin="round" stroke-linecap="round"/>
<path d="M486.28 611.9L491.53 620.66" fill="none" stroke="#d29f6b" stroke-width="1.8" stroke-linejoin="round" stroke-dasharray="4 2.5"/>
<path d="M491.53 620.66L498.53 621.53" fill="none" stroke="#d29f6b" stroke-width="1.8" stroke-linejoin="round" stroke-linecap="round"/>
<path d="M498.53 621.53L502.04 615.4" fill="none" stroke="#d29f6b" stroke-width="1.8" stroke-linejoin="round" stroke-dasharray="4 2.5"/>
<path d="M502.04 615.4L516.04 614.53" fill="none" stroke="#d29f6b" stroke-width="1.8" stroke-linejoin="round" stroke-linecap="round"/>
<path d="M516.04 614.53L521.29 617.16L526.54 607.53L530.04 600.53" fill="none" stroke="#d29f6b" stroke-width="1.8" stroke-linejoin="round" stroke-dasharray="4 2.5"/>
<path d="M530.04 600.53L538.8 600L540 600.15L546.13 599.28" fill="none" stroke="#d29f6b" stroke-width="1.8" stroke-linejoin="round" stroke-linecap="round"/>
<path d="M546.13 599.28L548.75 591.4" fill="none" stroke="#d29f6b" stroke-width="1.8" stroke-linejoin="round" stroke-dasharray="4 2.5"/>
<path d="M548.75 591.4L555.75 588.77L561.01 587.02" fill="none" stroke="#d29f6b" stroke-width="1.8" stroke-linejoin="round" stroke-linecap="round"/>
<path d="M561.01 587.02L566.26 580.9" fill="none" stroke="#d29f6b" stroke-width="1.8" stroke-linejoin="round" stroke-dasharray="4 2.5"/>
<path d="M566.26 580.9L571.51 578.8L583.76 578.8" fill="none" stroke="#d29f6b" stroke-width="1.8" stroke-linejoin="round" stroke-linecap="round"/>
<path d="M583.76 578.8L587.26 573.89" fill="none" stroke="#d29f6b" stroke-width="1.8" stroke-linejoin="round" stroke-dasharray="4 2.5"/>
<path d="M587.26 573.89L590.77 573.02" fill="none" stroke="#d29f6b" stroke-width="1.8" stroke-linejoin="round" stroke-linecap="round"/>
<path d="M590.77 573.02L595.14 579.15L597.77 572.14" fill="none" stroke="#d29f6b" stroke-width="1.8" stroke-linejoin="round" stroke-dasharray="4 2.5"/>
<path d="M597.77 572.14L604.77 570.92L614.4 571.27" fill="none" stroke="#d29f6b" stroke-width="1.8" stroke-linejoin="round" stroke-linecap="round"/>
<path d="M614.4 571.27L617.9 575.65L623.15 580.02L625.78 577.4" fill="none" stroke="#d29f6b" stroke-width="1.8" stroke-linejoin="round" stroke-dasharray="4 2.5"/>
<path d="M625.78 577.4L637.16 574.77L646.78 574.42" fill="none" stroke="#d29f6b" stroke-width="1.8" stroke-linejoin="round" stroke-linecap="round"/>
<path d="M646.78 574.42L652.04 571.27L660.79 575.65" fill="none" stroke="#d29f6b" stroke-width="1.8" stroke-linejoin="round" stroke-dasharray="4 2.5"/>
<path d="M660.79 575.65L666.04 573.89" fill="none" stroke="#d29f6b" stroke-width="1.8" stroke-linejoin="round" stroke-linecap="round"/>
<path d="M666.04 573.89L671.29 577.4" fill="none" stroke="#d29f6b" stroke-width="1.8" stroke-linejoin="round" stroke-dasharray="4 2.5"/>
<path d="M671.29 577.4L680.04 577.92" fill="none" stroke="#d29f6b" stroke-width="1.8" stroke-linejoin="round" stroke-linecap="round"/>
<path d="M680.04 577.92L685.3 580.9L689.67 588.77" fill="none" stroke="#d29f6b" stroke-width="1.8" stroke-linejoin="round" stroke-dasharray="4 2.5"/>
<path d="M689.67 588.77L690 588.77" fill="none" stroke="#d29f6b" stroke-width="1.8" stroke-linejoin="round" stroke-linecap="round"/>
<path d="M690 588.77L696.13 592.28L702.25 585.27L706.63 582.65" fill="none" stroke="#d29f6b" stroke-width="1.8" stroke-linejoin="round" stroke-dasharray="4 2.5"/>
<path d="M706.63 582.65L716.26 583.52" fill="none" stroke="#d29f6b" stroke-width="1.8" stroke-linejoin="round" stroke-linecap="round"/>
<path d="M716.26 583.52L718.88 592.28L721.51 598.4" fill="none" stroke="#d29f6b" stroke-width="1.8" stroke-linejoin="round" stroke-dasharray="4 2.5"/>
<path d="M721.51 598.4L725.01 599.28" fill="none" stroke="#d29f6b" stroke-width="1.8" stroke-linejoin="round" stroke-linecap="round"/>
<path d="M725.01 599.28L727.64 607.16L732.01 611.53L737.26 599.28L742.52 596.65" fill="none" stroke="#d29f6b" stroke-width="1.8" stroke-linejoin="round" stroke-dasharray="4 2.5"/>
<path d="M742.52 596.65L751.27 596.65" fill="none" stroke="#d29f6b" stroke-width="1.8" stroke-linejoin="round" stroke-linecap="round"/>
<path d="M751.27 596.65L757.4 601.03L760.02 604.53L765.27 599.28L768.77 593.15L774.03 596.65" fill="none" stroke="#d29f6b" stroke-width="1.8" stroke-linejoin="round" stroke-dasharray="4 2.5"/>
<path d="M774.03 596.65L784.53 596.65" fill="none" stroke="#d29f6b" stroke-width="1.8" stroke-linejoin="round" stroke-linecap="round"/>
<path d="M784.53 596.65L788.03 587.9" fill="none" stroke="#d29f6b" stroke-width="1.8" stroke-linejoin="round" stroke-dasharray="4 2.5"/>
<path d="M788.03 587.9L795.03 585.27L809.04 584.92L823.04 585.62L830.04 587.02L838.8 587.9" fill="none" stroke="#d29f6b" stroke-width="1.8" stroke-linejoin="round" stroke-linecap="round"/>
<path d="M838.8 587.9L841.42 581.77" fill="none" stroke="#d29f6b" stroke-width="1.8" stroke-linejoin="round" stroke-dasharray="4 2.5"/>
<path d="M841.42 581.77L850 581.42L870 572.52L883.13 571.21" fill="none" stroke="#d29f6b" stroke-width="1.8" stroke-linejoin="round" stroke-linecap="round"/>
<path d="M883.13 571.21L888.38 568.58L891.01 567.27L898.89 571.21L904.14 568.58L906.76 569.89" fill="none" stroke="#d29f6b" stroke-width="1.8" stroke-linejoin="round" stroke-dasharray="4 2.5"/>
<path d="M906.76 569.89L919.89 570.42" fill="none" stroke="#d29f6b" stroke-width="1.8" stroke-linejoin="round" stroke-linecap="round"/>
<path d="M919.89 570.42L925.15 563.33" fill="none" stroke="#d29f6b" stroke-width="1.8" stroke-linejoin="round" stroke-dasharray="4 2.5"/>
<path d="M925.15 563.33L934.34 560.7" fill="none" stroke="#d29f6b" stroke-width="1.8" stroke-linejoin="round" stroke-linecap="round"/>
<path d="M934.34 560.7L939.59 552.83L942.22 556.76" fill="none" stroke="#d29f6b" stroke-width="1.8" stroke-linejoin="round" stroke-dasharray="4 2.5"/>
<path d="M942.22 556.76L954.03 556.76" fill="none" stroke="#d29f6b" stroke-width="1.8" stroke-linejoin="round" stroke-linecap="round"/>
<path d="M954.03 556.76L957.97 551.51" fill="none" stroke="#d29f6b" stroke-width="1.8" stroke-linejoin="round" stroke-dasharray="4 2.5"/>
<path d="M957.97 551.51L967.69 550.99" fill="none" stroke="#d29f6b" stroke-width="1.8" stroke-linejoin="round" stroke-linecap="round"/>
<path d="M98.59 618.12L104.84 618.59" fill="none" stroke="#f4a9b3" stroke-width="1.9" stroke-linejoin="round" stroke-linecap="round"/>
<path d="M104.84 618.59L108.75 625.62L113.44 622.5L118.12 614.69L123.59 610" fill="none" stroke="#f4a9b3" stroke-width="1.9" stroke-linejoin="round" stroke-dasharray="4 2.5"/>
<path d="M123.59 610L138.44 610L141.56 611.56" fill="none" stroke="#f4a9b3" stroke-width="1.9" stroke-linejoin="round" stroke-linecap="round"/>
<path d="M141.56 611.56L143.91 610" fill="none" stroke="#f4a9b3" stroke-width="1.9" stroke-linejoin="round" stroke-dasharray="4 2.5"/>
<path d="M143.91 610L152.5 610L157.19 611.56" fill="none" stroke="#f4a9b3" stroke-width="1.9" stroke-linejoin="round" stroke-linecap="round"/>
<path d="M157.19 611.56L161.88 614.69" fill="none" stroke="#f4a9b3" stroke-width="1.9" stroke-linejoin="round" stroke-dasharray="4 2.5"/>
<path d="M161.88 614.69L177.5 614.69" fill="none" stroke="#f4a9b3" stroke-width="1.9" stroke-linejoin="round" stroke-linecap="round"/>
<path d="M177.5 614.69L182.19 611.56L185.31 608.12" fill="none" stroke="#f4a9b3" stroke-width="1.9" stroke-linejoin="round" stroke-dasharray="4 2.5"/>
<path d="M185.31 608.12L190 608.12L194.69 610.31L199.38 611.56L215 612.34" fill="none" stroke="#f4a9b3" stroke-width="1.9" stroke-linejoin="round" stroke-linecap="round"/>
<path d="M215 612.34L218.91 614.69L220.47 621.72L222.81 620.16L225.16 614.69L227.5 620.94L229.84 628.75" fill="none" stroke="#f4a9b3" stroke-width="1.9" stroke-linejoin="round" stroke-dasharray="4 2.5"/>
<path d="M229.84 628.75L239.22 628.75L240 628.28" fill="none" stroke="#f4a9b3" stroke-width="1.9" stroke-linejoin="round" stroke-linecap="round"/>
<path d="M240 628.28L244.69 623.59L247.81 618.12" fill="none" stroke="#f4a9b3" stroke-width="1.9" stroke-linejoin="round" stroke-dasharray="4 2.5"/>
<path d="M247.81 618.12L254.06 615" fill="none" stroke="#f4a9b3" stroke-width="1.9" stroke-linejoin="round" stroke-linecap="round"/>
<path d="M254.06 615L257.97 610.31" fill="none" stroke="#f4a9b3" stroke-width="1.9" stroke-linejoin="round" stroke-dasharray="4 2.5"/>
<path d="M257.97 610.31L263.44 608.75L272.81 608.75" fill="none" stroke="#f4a9b3" stroke-width="1.9" stroke-linejoin="round" stroke-linecap="round"/>
<path d="M272.81 608.75L278.28 604.84" fill="none" stroke="#f4a9b3" stroke-width="1.9" stroke-linejoin="round" stroke-dasharray="4 2.5"/>
<path d="M278.28 604.84L286.88 604.06L302.5 603.28L313.44 602.97L321.25 600.94L325.94 602.5L347.81 602.81" fill="none" stroke="#f4a9b3" stroke-width="1.9" stroke-linejoin="round" stroke-linecap="round"/>
<path d="M347.81 602.81L352.5 600.16L356.41 594.69L359.53 600.16L361.88 605.62L365 610.31" fill="none" stroke="#f4a9b3" stroke-width="1.9" stroke-linejoin="round" stroke-dasharray="4 2.5"/>
<path d="M365 610.31L377.5 610.31" fill="none" stroke="#f4a9b3" stroke-width="1.9" stroke-linejoin="round" stroke-linecap="round"/>
<path d="M377.5 610.31L380.62 598.59L385.31 602.5L390 607.53L395.25 611.03L398.75 604.03" fill="none" stroke="#f4a9b3" stroke-width="1.9" stroke-linejoin="round" stroke-dasharray="4 2.5"/>
<path d="M398.75 604.03L409.26 602.28" fill="none" stroke="#f4a9b3" stroke-width="1.9" stroke-linejoin="round" stroke-linecap="round"/>
<path d="M409.26 602.28L412.76 597.02" fill="none" stroke="#f4a9b3" stroke-width="1.9" stroke-linejoin="round" stroke-dasharray="4 2.5"/>
<path d="M412.76 597.02L419.76 594.4" fill="none" stroke="#f4a9b3" stroke-width="1.9" stroke-linejoin="round" stroke-linecap="round"/>
<path d="M419.76 594.4L423.26 588.27" fill="none" stroke="#f4a9b3" stroke-width="1.9" stroke-linejoin="round" stroke-dasharray="4 2.5"/>
<path d="M423.26 588.27L430.26 584.77" fill="none" stroke="#f4a9b3" stroke-width="1.9" stroke-linejoin="round" stroke-linecap="round"/>
<path d="M430.26 584.77L433.76 580.39" fill="none" stroke="#f4a9b3" stroke-width="1.9" stroke-linejoin="round" stroke-dasharray="4 2.5"/>
<path d="M433.76 580.39L444.27 580.04" fill="none" stroke="#f4a9b3" stroke-width="1.9" stroke-linejoin="round" stroke-linecap="round"/>
<path d="M444.27 580.04L449.52 576.89" fill="none" stroke="#f4a9b3" stroke-width="1.9" stroke-linejoin="round" stroke-dasharray="4 2.5"/>
<path d="M449.52 576.89L453.89 578.64L458.27 576.37L463.52 578.64" fill="none" stroke="#f4a9b3" stroke-width="1.9" stroke-linejoin="round" stroke-linecap="round"/>
<path d="M463.52 578.64L467.9 582.14" fill="none" stroke="#f4a9b3" stroke-width="1.9" stroke-linejoin="round" stroke-dasharray="4 2.5"/>
<path d="M467.9 582.14L479.28 582.14L482.78 581.27" fill="none" stroke="#f4a9b3" stroke-width="1.9" stroke-linejoin="round" stroke-linecap="round"/>
<path d="M482.78 581.27L487.16 586.17" fill="none" stroke="#f4a9b3" stroke-width="1.9" stroke-linejoin="round" stroke-dasharray="4 2.5"/>
<path d="M487.16 586.17L493.28 585.65" fill="none" stroke="#f4a9b3" stroke-width="1.9" stroke-linejoin="round" stroke-linecap="round"/>
<path d="M493.28 585.65L497.66 582.14L502.04 575.14" fill="none" stroke="#f4a9b3" stroke-width="1.9" stroke-linejoin="round" stroke-dasharray="4 2.5"/>
<path d="M502.04 575.14L512.54 574.62L516.91 573.39L524.79 576.02L530.04 573.39L538.8 573.39L540 573.89L546.13 573.02" fill="none" stroke="#f4a9b3" stroke-width="1.9" stroke-linejoin="round" stroke-linecap="round"/>
<path d="M546.13 573.02L548.75 569.52" fill="none" stroke="#f4a9b3" stroke-width="1.9" stroke-linejoin="round" stroke-dasharray="4 2.5"/>
<path d="M548.75 569.52L552.25 568.64L562.76 567.77" fill="none" stroke="#f4a9b3" stroke-width="1.9" stroke-linejoin="round" stroke-linecap="round"/>
<path d="M562.76 567.77L568.01 562.52" fill="none" stroke="#f4a9b3" stroke-width="1.9" stroke-linejoin="round" stroke-dasharray="4 2.5"/>
<path d="M568.01 562.52L578.51 562.52L589.02 564.27L595.14 565.14" fill="none" stroke="#f4a9b3" stroke-width="1.9" stroke-linejoin="round" stroke-linecap="round"/>
<path d="M595.14 565.14L599.52 558.14" fill="none" stroke="#f4a9b3" stroke-width="1.9" stroke-linejoin="round" stroke-dasharray="4 2.5"/>
<path d="M599.52 558.14L606.52 556.39L615.27 556.91L622.28 560.77L625.78 562.52L632.78 562.52" fill="none" stroke="#f4a9b3" stroke-width="1.9" stroke-linejoin="round" stroke-linecap="round"/>
<path d="M632.78 562.52L637.16 557.61" fill="none" stroke="#f4a9b3" stroke-width="1.9" stroke-linejoin="round" stroke-dasharray="4 2.5"/>
<path d="M637.16 557.61L652.04 557.26L662.54 556.91" fill="none" stroke="#f4a9b3" stroke-width="1.9" stroke-linejoin="round" stroke-linecap="round"/>
<path d="M662.54 556.91L666.04 553.76L670.42 556.91" fill="none" stroke="#f4a9b3" stroke-width="1.9" stroke-linejoin="round" stroke-dasharray="4 2.5"/>
<path d="M670.42 556.91L683.54 556.91L689.67 555.51L690 556.39L697 552.89" fill="none" stroke="#f4a9b3" stroke-width="1.9" stroke-linejoin="round" stroke-linecap="round"/>
<path d="M697 552.89L702.25 547.64" fill="none" stroke="#f4a9b3" stroke-width="1.9" stroke-linejoin="round" stroke-dasharray="4 2.5"/>
<path d="M702.25 547.64L707.51 545.89L719.76 546.41" fill="none" stroke="#f4a9b3" stroke-width="1.9" stroke-linejoin="round" stroke-linecap="round"/>
<path d="M719.76 546.41L723.26 550.26L727.64 560.77L731.14 566.02L736.39 553.76" fill="none" stroke="#f4a9b3" stroke-width="1.9" stroke-linejoin="round" stroke-dasharray="4 2.5"/>
<path d="M736.39 553.76L739.89 552.01L753.02 552.54" fill="none" stroke="#f4a9b3" stroke-width="1.9" stroke-linejoin="round" stroke-linecap="round"/>
<path d="M753.02 552.54L759.15 558.14" fill="none" stroke="#f4a9b3" stroke-width="1.9" stroke-linejoin="round" stroke-dasharray="4 2.5"/>
<path d="M759.15 558.14L764.4 560.77" fill="none" stroke="#f4a9b3" stroke-width="1.9" stroke-linejoin="round" stroke-linecap="round"/>
<path d="M764.4 560.77L770.53 556.39" fill="none" stroke="#f4a9b3" stroke-width="1.9" stroke-linejoin="round" stroke-dasharray="4 2.5"/>
<path d="M770.53 556.39L784.53 554.64" fill="none" stroke="#f4a9b3" stroke-width="1.9" stroke-linejoin="round" stroke-linecap="round"/>
<path d="M784.53 554.64L788.91 552.01" fill="none" stroke="#f4a9b3" stroke-width="1.9" stroke-linejoin="round" stroke-dasharray="4 2.5"/>
<path d="M788.91 552.01L798.53 553.76L809.04 549.91L823.04 549.39L835.3 548.16L842.3 545.89L850 545.89L870 550.2L891.01 548.36" fill="none" stroke="#f4a9b3" stroke-width="1.9" stroke-linejoin="round" stroke-linecap="round"/>
<path d="M891.01 548.36L898.89 554.14L906.76 560.7" fill="none" stroke="#f4a9b3" stroke-width="1.9" stroke-linejoin="round" stroke-dasharray="4 2.5"/>
<path d="M906.76 560.7L918.58 561.49" fill="none" stroke="#f4a9b3" stroke-width="1.9" stroke-linejoin="round" stroke-linecap="round"/>
<path d="M918.58 561.49L922.52 555.45" fill="none" stroke="#f4a9b3" stroke-width="1.9" stroke-linejoin="round" stroke-dasharray="4 2.5"/>
<path d="M922.52 555.45L931.71 552.83" fill="none" stroke="#f4a9b3" stroke-width="1.9" stroke-linejoin="round" stroke-linecap="round"/>
<path d="M931.71 552.83L938.28 548.89" fill="none" stroke="#f4a9b3" stroke-width="1.9" stroke-linejoin="round" stroke-dasharray="4 2.5"/>
<path d="M938.28 548.89L946.16 548.36L956.66 546.26L967.69 544.95" fill="none" stroke="#f4a9b3" stroke-width="1.9" stroke-linejoin="round" stroke-linecap="round"/>
<path d="M98.59 618.12L105.62 619.06L110.31 622.5L115 624.06L118.91 627.19L121.25 620.94L123.59 613.12" fill="none" stroke="#e4e6ea" stroke-width="1.9" stroke-linejoin="round" stroke-dasharray="5 3"/>
<path d="M149.38 601.88L152.5 597.5L156.41 593.59L160.31 595.94" fill="none" stroke="#e4e6ea" stroke-width="1.9" stroke-linejoin="round" stroke-dasharray="5 3"/>
<path d="M179.06 595.16L183.75 596.72L186.88 595.16L191.56 592.5L196.25 594.38" fill="none" stroke="#e4e6ea" stroke-width="1.9" stroke-linejoin="round" stroke-dasharray="5 3"/>
<path d="M211.88 592.81L215 596.72L219.69 595.94L222.81 599.06L225.94 605.31L228.28 611.56L230.62 614.69" fill="none" stroke="#e4e6ea" stroke-width="1.9" stroke-linejoin="round" stroke-dasharray="5 3"/>
<path d="M240 615L243.91 605.62L247.81 597.81L251.72 595.47L255.62 594.69" fill="none" stroke="#e4e6ea" stroke-width="1.9" stroke-linejoin="round" stroke-dasharray="5 3"/>
<path d="M280.62 579.06L286.88 577.19" fill="none" stroke="#e4e6ea" stroke-width="1.9" stroke-linejoin="round" stroke-dasharray="5 3"/>
<path d="M313.44 565L317.34 559.53L324.38 563.12L329.84 566.56" fill="none" stroke="#e4e6ea" stroke-width="1.9" stroke-linejoin="round" stroke-dasharray="5 3"/>
<path d="M357.19 572.81L361.09 565.78L363.44 575.94L365 586.09" fill="none" stroke="#e4e6ea" stroke-width="1.9" stroke-linejoin="round" stroke-dasharray="5 3"/>
<path d="M381.41 575.94L386.09 579.84L390 577.5L393.91 585.31L396.25 589.22L400 590.78" fill="none" stroke="#e4e6ea" stroke-width="1.9" stroke-linejoin="round" stroke-dasharray="5 3"/>
<path d="M390 577.77L393.5 587.4L397.88 590.02" fill="none" stroke="#e4e6ea" stroke-width="1.9" stroke-linejoin="round" stroke-dasharray="5 3"/>
<path d="M416.26 590.02L420.63 586.52L426.76 586.17L432.01 576.02L434.64 573.39" fill="none" stroke="#e4e6ea" stroke-width="1.9" stroke-linejoin="round" stroke-dasharray="5 3"/>
<path d="M450.39 571.64L456.52 569.02L460.02 568.14L463.52 564.64L467.02 571.64L469.65 572.52" fill="none" stroke="#e4e6ea" stroke-width="1.9" stroke-linejoin="round" stroke-dasharray="5 3"/>
<path d="M484.53 585.65L488.91 590.9L492.41 595.27L496.78 592.65L500.28 588.27" fill="none" stroke="#e4e6ea" stroke-width="1.9" stroke-linejoin="round" stroke-dasharray="5 3"/>
<path d="M518.67 579.52L523.04 580.39L525.67 583.02L530.04 579.52L535.3 571.64" fill="none" stroke="#e4e6ea" stroke-width="1.9" stroke-linejoin="round" stroke-dasharray="5 3"/>
<path d="M546.67 572.52L550 571.64" fill="none" stroke="#e4e6ea" stroke-width="1.9" stroke-linejoin="round" stroke-dasharray="5 3"/>
<path d="M548.75 573.02L554 572.14L562.76 570.39L568.01 566.02" fill="none" stroke="#e4e6ea" stroke-width="1.9" stroke-linejoin="round" stroke-dasharray="5 3"/>
<path d="M588.14 573.02L592.52 576.52L597.77 575.65L603.02 574.77" fill="none" stroke="#e4e6ea" stroke-width="1.9" stroke-linejoin="round" stroke-dasharray="5 3"/>
<path d="M618.77 576.52L622.28 580.02L625.78 588.77L628.05 596.65L631.03 587.02L634.53 579.15L636.28 586.15" fill="none" stroke="#e4e6ea" stroke-width="1.9" stroke-linejoin="round" stroke-dasharray="5 3"/>
<path d="M653.79 586.15L657.29 587.37L660.79 586.67" fill="none" stroke="#e4e6ea" stroke-width="1.9" stroke-linejoin="round" stroke-dasharray="5 3"/>
<path d="M702.25 580.9L705.75 580.9" fill="none" stroke="#e4e6ea" stroke-width="1.9" stroke-linejoin="round" stroke-dasharray="5 3"/>
<path d="M720.63 579.15L723.26 587.02L726.76 599.28L731.14 608.03L735.51 616.78L739.02 606.28" fill="none" stroke="#e4e6ea" stroke-width="1.9" stroke-linejoin="round" stroke-dasharray="5 3"/>
<path d="M755.65 608.03L760.02 599.28L764.4 605.4L770.53 603.65" fill="none" stroke="#e4e6ea" stroke-width="1.9" stroke-linejoin="round" stroke-dasharray="5 3"/>
<path d="M789.78 598.4L796.78 595.78L803.79 594.03L805.54 587.02" fill="none" stroke="#e4e6ea" stroke-width="1.9" stroke-linejoin="round" stroke-dasharray="5 3"/>
<path d="M824.79 591.4L830.04 589.65L835.3 587.02L840.55 587.9" fill="none" stroke="#e4e6ea" stroke-width="1.9" stroke-linejoin="round" stroke-dasharray="5 3"/>
<path d="M858 588L866 590L874 589" fill="none" stroke="#e4e6ea" stroke-width="1.9" stroke-linejoin="round" stroke-dasharray="5 3"/>
<path d="M892 583L895 580L899 582L905 586" fill="none" stroke="#e4e6ea" stroke-width="1.9" stroke-linejoin="round" stroke-dasharray="5 3"/>
<path d="M870 588.8L875.25 588.8" fill="none" stroke="#e4e6ea" stroke-width="1.9" stroke-linejoin="round" stroke-dasharray="5 3"/>
<path d="M891.01 583.03L896.26 580.92L902.83 586.96L909.39 588.8" fill="none" stroke="#e4e6ea" stroke-width="1.9" stroke-linejoin="round" stroke-dasharray="5 3"/>
<path d="M925.15 605.35L929.09 590.9L940.9 588.8" fill="none" stroke="#e4e6ea" stroke-width="1.9" stroke-linejoin="round" stroke-dasharray="5 3"/>
<path d="M959.29 588.28L963.22 591.43L967.69 592.22" fill="none" stroke="#e4e6ea" stroke-width="1.9" stroke-linejoin="round" stroke-dasharray="5 3"/>
<circle cx="98.3" cy="617.7" r="2" fill="#212B36" stroke="#8fb3cf" stroke-width="1"/>
<g font-size="10.3" fill="#727f8c" text-anchor="end"><text x="97.6" y="735.3" transform="rotate(-45 97.6 735.3)">01/03</text><text x="107.43" y="735.3" transform="rotate(-45 107.43 735.3)">01/05</text><text x="117.26" y="735.3" transform="rotate(-45 117.26 735.3)">01/07</text><text x="127.09" y="735.3" transform="rotate(-45 127.09 735.3)">01/09</text><text x="136.92" y="735.3" transform="rotate(-45 136.92 735.3)">01/11</text><text x="146.75" y="735.3" transform="rotate(-45 146.75 735.3)">01/13</text><text x="156.58" y="735.3" transform="rotate(-45 156.58 735.3)">01/15</text><text x="166.41" y="735.3" transform="rotate(-45 166.41 735.3)">01/17</text><text x="176.24" y="735.3" transform="rotate(-45 176.24 735.3)">01/19</text><text x="186.07" y="735.3" transform="rotate(-45 186.07 735.3)">01/21</text><text x="195.9" y="735.3" transform="rotate(-45 195.9 735.3)">01/23</text><text x="205.73" y="735.3" transform="rotate(-45 205.73 735.3)">01/25</text><text x="215.56" y="735.3" transform="rotate(-45 215.56 735.3)">01/27</text><text x="225.39" y="735.3" transform="rotate(-45 225.39 735.3)">01/29</text><text x="235.22" y="735.3" transform="rotate(-45 235.22 735.3)">01/31</text><text x="245.05" y="735.3" transform="rotate(-45 245.05 735.3)">02/02</text><text x="254.88" y="735.3" transform="rotate(-45 254.88 735.3)">02/04</text><text x="264.71" y="735.3" transform="rotate(-45 264.71 735.3)">02/06</text><text x="274.54" y="735.3" transform="rotate(-45 274.54 735.3)">02/08</text><text x="284.37" y="735.3" transform="rotate(-45 284.37 735.3)">02/10</text><text x="294.2" y="735.3" transform="rotate(-45 294.2 735.3)">02/12</text><text x="304.03" y="735.3" transform="rotate(-45 304.03 735.3)">02/14</text><text x="313.86" y="735.3" transform="rotate(-45 313.86 735.3)">02/16</text><text x="323.69" y="735.3" transform="rotate(-45 323.69 735.3)">02/18</text><text x="333.52" y="735.3" transform="rotate(-45 333.52 735.3)">02/20</text><text x="343.35" y="735.3" transform="rotate(-45 343.35 735.3)">02/22</text><text x="353.18" y="735.3" transform="rotate(-45 353.18 735.3)">02/24</text><text x="363.01" y="735.3" transform="rotate(-45 363.01 735.3)">02/26</text><text x="372.84" y="735.3" transform="rotate(-45 372.84 735.3)">02/28</text><text x="382.67" y="735.3" transform="rotate(-45 382.67 735.3)">03/02</text><text x="392.5" y="735.3" transform="rotate(-45 392.5 735.3)">03/04</text><text x="402.33" y="735.3" transform="rotate(-45 402.33 735.3)">03/06</text><text x="412.16" y="735.3" transform="rotate(-45 412.16 735.3)">03/08</text><text x="421.99" y="735.3" transform="rotate(-45 421.99 735.3)">03/10</text><text x="431.82" y="735.3" transform="rotate(-45 431.82 735.3)">03/12</text><text x="441.65" y="735.3" transform="rotate(-45 441.65 735.3)">03/14</text><text x="451.48" y="735.3" transform="rotate(-45 451.48 735.3)">03/16</text><text x="461.31" y="735.3" transform="rotate(-45 461.31 735.3)">03/18</text><text x="471.14" y="735.3" transform="rotate(-45 471.14 735.3)">03/20</text><text x="480.97" y="735.3" transform="rotate(-45 480.97 735.3)">03/22</text><text x="490.8" y="735.3" transform="rotate(-45 490.8 735.3)">03/24</text><text x="500.63" y="735.3" transform="rotate(-45 500.63 735.3)">03/26</text><text x="510.46" y="735.3" transform="rotate(-45 510.46 735.3)">03/28</text><text x="520.29" y="735.3" transform="rotate(-45 520.29 735.3)">03/30</text><text x="530.12" y="735.3" transform="rotate(-45 530.12 735.3)">04/01</text><text x="539.95" y="735.3" transform="rotate(-45 539.95 735.3)">04/03</text><text x="549.78" y="735.3" transform="rotate(-45 549.78 735.3)">04/05</text><text x="559.61" y="735.3" transform="rotate(-45 559.61 735.3)">04/07</text><text x="569.44" y="735.3" transform="rotate(-45 569.44 735.3)">04/09</text><text x="579.27" y="735.3" transform="rotate(-45 579.27 735.3)">04/11</text><text x="589.1" y="735.3" transform="rotate(-45 589.1 735.3)">04/13</text><text x="598.93" y="735.3" transform="rotate(-45 598.93 735.3)">04/15</text><text x="608.76" y="735.3" transform="rotate(-45 608.76 735.3)">04/17</text><text x="618.59" y="735.3" transform="rotate(-45 618.59 735.3)">04/19</text><text x="628.42" y="735.3" transform="rotate(-45 628.42 735.3)">04/21</text><text x="638.25" y="735.3" transform="rotate(-45 638.25 735.3)">04/23</text><text x="648.08" y="735.3" transform="rotate(-45 648.08 735.3)">04/25</text><text x="657.91" y="735.3" transform="rotate(-45 657.91 735.3)">04/27</text><text x="667.74" y="735.3" transform="rotate(-45 667.74 735.3)">04/29</text><text x="677.57" y="735.3" transform="rotate(-45 677.57 735.3)">05/01</text><text x="687.4" y="735.3" transform="rotate(-45 687.4 735.3)">05/03</text><text x="697.23" y="735.3" transform="rotate(-45 697.23 735.3)">05/05</text><text x="707.06" y="735.3" transform="rotate(-45 707.06 735.3)">05/07</text><text x="716.89" y="735.3" transform="rotate(-45 716.89 735.3)">05/09</text><text x="726.72" y="735.3" transform="rotate(-45 726.72 735.3)">05/11</text><text x="736.55" y="735.3" transform="rotate(-45 736.55 735.3)">05/13</text><text x="746.38" y="735.3" transform="rotate(-45 746.38 735.3)">05/15</text><text x="756.21" y="735.3" transform="rotate(-45 756.21 735.3)">05/17</text><text x="766.04" y="735.3" transform="rotate(-45 766.04 735.3)">05/19</text><text x="775.87" y="735.3" transform="rotate(-45 775.87 735.3)">05/21</text><text x="785.7" y="735.3" transform="rotate(-45 785.7 735.3)">05/23</text><text x="795.53" y="735.3" transform="rotate(-45 795.53 735.3)">05/25</text><text x="805.36" y="735.3" transform="rotate(-45 805.36 735.3)">05/27</text><text x="815.19" y="735.3" transform="rotate(-45 815.19 735.3)">05/29</text><text x="825.02" y="735.3" transform="rotate(-45 825.02 735.3)">05/31</text><text x="834.85" y="735.3" transform="rotate(-45 834.85 735.3)">06/02</text><text x="844.68" y="735.3" transform="rotate(-45 844.68 735.3)">06/04</text><text x="854.51" y="735.3" transform="rotate(-45 854.51 735.3)">06/06</text><text x="864.34" y="735.3" transform="rotate(-45 864.34 735.3)">06/08</text><text x="874.17" y="735.3" transform="rotate(-45 874.17 735.3)">06/10</text><text x="884" y="735.3" transform="rotate(-45 884 735.3)">06/12</text><text x="893.83" y="735.3" transform="rotate(-45 893.83 735.3)">06/14</text><text x="903.66" y="735.3" transform="rotate(-45 903.66 735.3)">06/16</text><text x="913.49" y="735.3" transform="rotate(-45 913.49 735.3)">06/18</text><text x="923.32" y="735.3" transform="rotate(-45 923.32 735.3)">06/20</text><text x="933.15" y="735.3" transform="rotate(-45 933.15 735.3)">06/22</text><text x="942.98" y="735.3" transform="rotate(-45 942.98 735.3)">06/24</text><text x="952.81" y="735.3" transform="rotate(-45 952.81 735.3)">06/26</text><text x="962.64" y="735.3" transform="rotate(-45 962.64 735.3)">06/28</text><text x="972.47" y="735.3" transform="rotate(-45 972.47 735.3)">06/30</text></g>
<circle cx="320.9" cy="481.7" r="4.5" fill="#4f88b8"/>
<text x="333.2" y="485.7" font-size="10.8" fill="#e8ebee">全体</text>
<text x="355" y="485.4" font-size="10.5" fill="#e8ebee">PF</text>
<circle cx="393" cy="481.7" r="4.5" fill="#f49b2c"/>
<text x="405.3" y="485.7" font-size="10.8" fill="#e8ebee">日本株</text>
<text x="437.9" y="485.4" font-size="10.5" fill="#e8ebee">PF</text>
<circle cx="475" cy="481.7" r="4.5" fill="#a6d55d"/>
<text x="487.3" y="485.7" font-size="10.8" fill="#e8ebee">米国株</text>
<text x="519.9" y="485.4" font-size="10.5" fill="#e8ebee">PF</text>
<circle cx="557.5" cy="481.7" r="4.5" fill="#f5843a"/>
<text x="569.8" y="485.7" font-size="10.8" fill="#e8ebee">仮想通貨</text>
<text x="613.2" y="485.4" font-size="10.5" fill="#e8ebee">PF</text>
<circle cx="651.8" cy="481.7" r="4.5" fill="#cdc4e6"/>
<text x="664.1" y="485.4" font-size="10.5" fill="#e8ebee">S&amp;P500</text>
<circle cx="728.5" cy="481.7" r="4.5" fill="#d29f6b"/>
<text x="740.8" y="485.4" font-size="10.5" fill="#e8ebee">NASDAQ100</text>
<circle cx="829.4" cy="481.7" r="4.5" fill="#f6a5ae"/>
<text x="841.7" y="485.7" font-size="10.8" fill="#e8ebee">ダウ平均</text>
<circle cx="910.2" cy="481.7" r="4.5" fill="#d2d4d6"/>
<text x="922.5" y="485.7" font-size="10.8" fill="#e8ebee">日経平均</text>
<text x="41" y="37.4" font-size="13.2" fill="#fff" font-weight="bold">全体</text>
<text x="67.9" y="37.4" font-size="12.8" fill="#fff" font-weight="bold" textLength="14.2" lengthAdjust="spacingAndGlyphs">PF</text>
<text x="86.5" y="37.4" font-size="12.8" fill="#fff" font-weight="bold">(</text>
<text x="91.5" y="37.4" font-size="13.2" fill="#fff" font-weight="bold">資産種別</text>
<text x="147.2" y="37.4" font-size="12.8" fill="#fff" font-weight="bold">)</text>
<text x="373.5" y="37.4" font-size="13.2" fill="#fff" font-weight="bold">全体</text>
<text x="400.4" y="37.4" font-size="12.8" fill="#fff" font-weight="bold" textLength="14.2" lengthAdjust="spacingAndGlyphs">PF</text>
<text x="419" y="37.4" font-size="12.8" fill="#fff" font-weight="bold">(</text>
<text x="424" y="37.4" font-size="13.2" fill="#fff" font-weight="bold">資産詳細</text>
<text x="479.7" y="37.4" font-size="12.8" fill="#fff" font-weight="bold">)</text>
<text x="706.6" y="37.4" font-size="13.2" fill="#fff" font-weight="bold">日米配当</text>
<text x="759.2" y="37.4" font-size="12.8" fill="#fff" font-weight="bold" textLength="14.2" lengthAdjust="spacingAndGlyphs">PF</text>
<text x="40.7" y="442.3" font-size="13.5" fill="#fff" font-weight="bold" textLength="55.2" lengthAdjust="spacingAndGlyphs">vs INDEX</text>
<text x="857.8" y="441.6" font-size="10.4" fill="#fff" text-anchor="middle" font-weight="bold">30d</text>
<text x="891.9" y="441.6" font-size="10.4" fill="#fff" text-anchor="middle" font-weight="bold">90d</text>
<text x="925.4" y="441.6" font-size="10.4" fill="#fff" text-anchor="middle" font-weight="bold">180d</text>
<text x="960" y="441.6" font-size="10.4" fill="#fff" text-anchor="middle" font-weight="bold">365d</text>
<rect x="875.2" y="424.7" width="1" height="23.3" fill="#39444f"/>
<rect x="908.6" y="424.7" width="1" height="23.3" fill="#39444f"/>
<rect x="942.5" y="424.7" width="1" height="23.3" fill="#39444f"/>
</svg>
</body></html>
